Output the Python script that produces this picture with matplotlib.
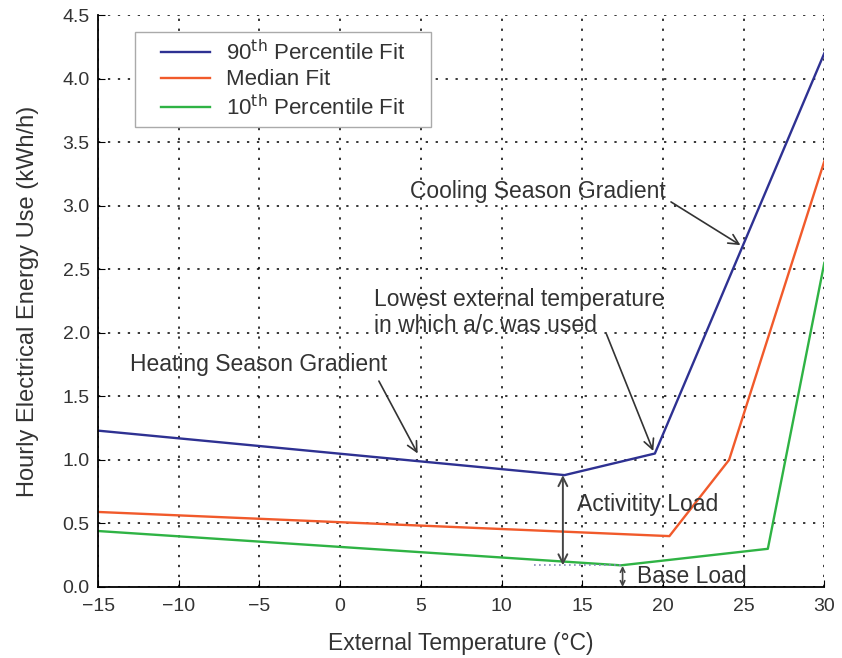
import matplotlib.pyplot as plt
from matplotlib.patches import Rectangle

plt.rcParams['font.family'] = ['Liberation Sans', 'DejaVu Sans']

# piecewise fits
temp_p90 = [-15, 13.9, 19.5, 30]
use_p90 = [1.23, 0.88, 1.05, 4.20]
temp_med = [-15, 20.4, 24.1, 30]
use_med = [0.59, 0.40, 1.00, 3.35]
temp_p10 = [-15, 17.4, 26.5, 30]
use_p10 = [0.44, 0.17, 0.30, 2.55]

x_ticks = [-15, -10, -5, 0, 5, 10, 15, 20, 25, 30]
y_ticks = [0.0, 0.5, 1.0, 1.5, 2.0, 2.5, 3.0, 3.5, 4.0, 4.5]

FS = 16.5

fig = plt.figure(figsize=(8.42, 6.58), dpi=100)
ax = fig.add_axes([0.1165, 0.108, 0.8625, 0.869])

ax.plot(temp_p90, use_p90, color='#2e3192', lw=1.7, label='90$^{\\rm th}$ Percentile Fit')
ax.plot(temp_med, use_med, color='#f15a2b', lw=1.7, label='Median Fit')
ax.plot(temp_p10, use_p10, color='#2fb344', lw=1.7, label='10$^{\\rm th}$ Percentile Fit')

ax.set_xlim(-15, 30)
ax.set_ylim(0, 4.5)
ax.set_xticks(x_ticks)
ax.set_xticklabels([f'\u2212{-t}' if t < 0 else str(t) for t in x_ticks])
ax.set_yticks(y_ticks)
ax.set_yticklabels([f'{t:.1f}' for t in y_ticks])
ax.tick_params(direction='in', length=5, labelsize=14, color='black', labelcolor='#333333')
ax.tick_params(axis='x', pad=8)
ax.tick_params(axis='y', pad=6)
ax.grid(True, color='black', linestyle=(0, (1.5, 5)), linewidth=1.1)
for s in ['top', 'right']:
    ax.spines[s].set_visible(False)
for s in ['left', 'bottom']:
    ax.spines[s].set_linewidth(1.3)

ax.set_xlabel('External Temperature (\u00b0C)', fontsize=FS, labelpad=12, color='#333333')
ax.set_ylabel('Hourly Electrical Energy Use (kWh/h)', fontsize=17, labelpad=17, color='#333333')

# legend box drawn by hand so the side padding can differ from the top padding
ax.add_patch(Rectangle((0.051, 0.804), 0.407, 0.166, transform=ax.transAxes,
                       facecolor='white', edgecolor='#aaaaaa', lw=1.0, zorder=4))
leg = ax.legend(loc='upper left', bbox_to_anchor=(0.0867, 0.957), fontsize=16,
                frameon=False, handlelength=2.2, borderpad=0.0, borderaxespad=0.0,
                labelspacing=0.2, handletextpad=0.72)
leg.set_zorder(5)
for t in leg.get_texts():
    t.set_color('#333333')

arrow = dict(arrowstyle='->', color='#333333', lw=1.2, mutation_scale=18,
             shrinkA=0, shrinkB=0)
txt = dict(fontsize=FS, va='center', color='#333333')

ax.text(4.3, 3.11, 'Cooling Season Gradient', **txt)
ax.annotate('', xy=(24.8, 2.69), xytext=(20.5, 3.03), arrowprops=arrow)

ax.text(2.1, 2.16, 'Lowest external temperature\nin which a/c was used',
        linespacing=1.2, **txt)
ax.annotate('', xy=(19.4, 1.07), xytext=(16.5, 1.99), arrowprops=arrow)

ax.text(-13.0, 1.75, 'Heating Season Gradient', **txt)
ax.annotate('', xy=(4.8, 1.05), xytext=(2.4, 1.62), arrowprops=arrow)

# activity and base load markers
ax.annotate('', xy=(13.8, 0.88), xytext=(13.8, 0.17),
            arrowprops=dict(arrowstyle='<->', color='#444444', lw=1.4,
                            mutation_scale=16, shrinkA=0, shrinkB=0))
ax.text(14.7, 0.645, 'Activitity Load', **txt)
ax.plot([12.0, 17.4], [0.17, 0.17], color='#8888bb', lw=1.2, linestyle=(0, (1, 2)))
ax.annotate('', xy=(17.5, 0.165), xytext=(17.5, 0.0),
            arrowprops=dict(arrowstyle='<->', color='#444444', lw=1.2,
                            mutation_scale=8, shrinkA=0, shrinkB=0))
ax.text(18.4, 0.085, 'Base Load', **txt)

fig.savefig('out.png', dpi=100)
